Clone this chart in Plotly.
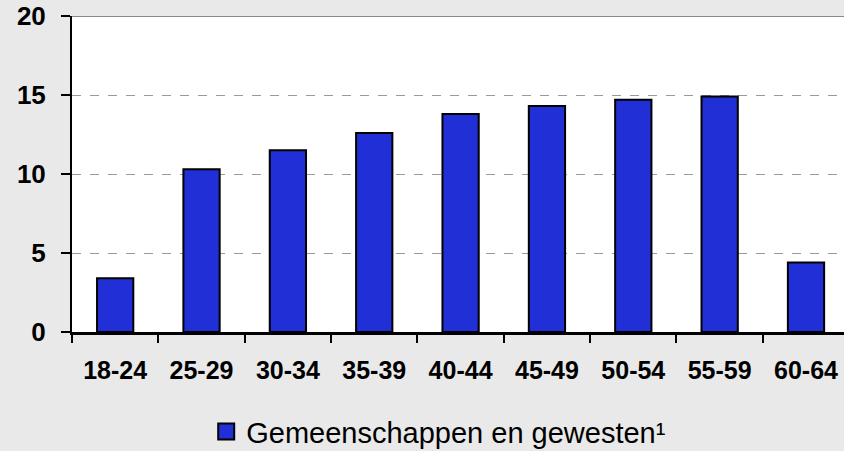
import plotly.graph_objects as go

categories = ["18-24", "25-29", "30-34", "35-39", "40-44", "45-49", "50-54", "55-59", "60-64"]
values = [3.4, 10.3, 11.5, 12.6, 13.8, 14.3, 14.7, 14.9, 4.4]
series_name = "Gemeenschappen en gewesten\u00b9"
y_ticks = [0, 5, 10, 15, 20]

BLUE = "#2130d6"
BG = "#e9e9e9"
FONT = "Liberation Sans, Arial, sans-serif"

fig = go.Figure()
fig.add_trace(go.Bar(
    x=categories, y=values, name=series_name, showlegend=False,
    marker=dict(color=BLUE, line=dict(color="black", width=2)),
))
# legend-only entry
fig.add_trace(go.Scatter(
    x=[None], y=[None], mode="markers", name=series_name,
    marker=dict(symbol="square", size=16, color=BLUE, line=dict(color="black", width=2)),
))

fig.add_shape(type="line", xref="paper", yref="y", x0=0, x1=1, y0=20, y1=20,
              line=dict(color="#8a8a8a", width=2), layer="above")

fig.update_layout(
    width=844, height=451,
    paper_bgcolor=BG, plot_bgcolor="white",
    margin=dict(l=72, r=0, t=16, b=119, autoexpand=False),
    bargap=0.58,
    font=dict(family=FONT, color="black"),
    showlegend=True,
    legend=dict(orientation="h", x=0.475, xanchor="center", y=-0.315, yanchor="middle",
                font=dict(size=29, family=FONT),
                bgcolor="rgba(0,0,0,0)", itemsizing="trace"),
    xaxis=dict(
        type="category", range=[-0.5, 8.44], automargin=False,
        showline=True, linecolor="black", linewidth=3,
        ticks="outside", tickson="boundaries", ticklen=8, tickwidth=2, tickcolor="black",
        tickfont=dict(size=25, family=FONT, weight="bold"),
        ticklabelstandoff=14,
        showgrid=False, zeroline=False,
    ),
    yaxis=dict(
        range=[0, 20], tickvals=y_ticks, automargin=False,
        showline=True, linecolor="black", linewidth=2,
        ticks="outside", ticklen=9, tickwidth=2, tickcolor="black",
        tickfont=dict(size=26, family=FONT, weight="bold"),
        ticklabelstandoff=10,
        showgrid=True, gridcolor="#9a9a9a", griddash="dash", gridwidth=1,
        zeroline=False,
    ),
)

fig.write_html("out.html", config={"displayModeBar": False},
               post_script="document.body.style.margin='0';document.body.style.overflow='hidden';")
